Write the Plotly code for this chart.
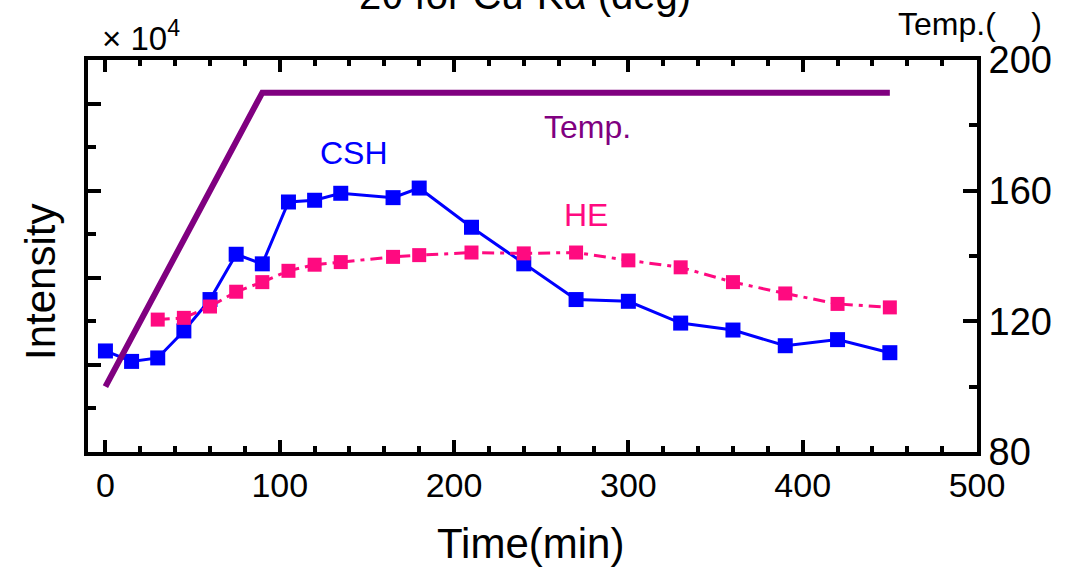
import plotly.graph_objects as go

# ---- data ----
time_csh = [0, 15, 30, 45, 60, 75, 90, 105, 120, 135, 165, 180, 210, 240, 270, 300, 330, 360, 390, 420, 450]
csh = [2.16, 2.04, 2.08, 2.39, 2.75, 3.27, 3.16, 3.87, 3.89, 3.97, 3.92, 4.03, 3.58, 3.16, 2.75, 2.73, 2.48, 2.40, 2.22, 2.29, 2.14]

time_he = [30, 45, 60, 75, 90, 105, 120, 135, 165, 180, 210, 240, 270, 300, 330, 360, 390, 420, 450]
he = [2.52, 2.54, 2.67, 2.84, 2.95, 3.08, 3.15, 3.18, 3.24, 3.26, 3.29, 3.28, 3.29, 3.20, 3.12, 2.95, 2.82, 2.70, 2.66]

time_temp = [0, 90, 450]
temp = [100, 190, 190]

x_ticks = [0, 100, 200, 300, 400, 500]
temp_ticks = [80, 120, 160, 200]

FONT = "Liberation Sans, Arial, sans-serif"
BLUE = "#0000FF"
PINK = "#FF0A80"
PURPLE = "#800080"

# plot-area pixel geometry (for annotation placement)
L, R, T, B = 88, 977, 60, 452
def xp(px):
    return (px - L) / (R - L)
def yp(py):
    return (B - py) / (B - T)

fig = go.Figure()
fig.add_trace(go.Scatter(
    x=time_csh, y=csh, mode="lines+markers", name="CSH",
    line=dict(color=BLUE, width=3),
    marker=dict(symbol="square", size=15, color=BLUE),
    yaxis="y", showlegend=False))
fig.add_trace(go.Scatter(
    x=time_he, y=he, mode="lines+markers", name="HE",
    line=dict(color=PINK, width=3, dash="12px,6px,4px,6px"),
    marker=dict(symbol="square", size=14, color=PINK),
    yaxis="y", showlegend=False))
fig.add_trace(go.Scatter(
    x=time_temp, y=temp, mode="lines", name="Temp.",
    line=dict(color=PURPLE, width=6),
    yaxis="y2", showlegend=False))

fig.update_layout(
    width=1077, height=568,
    margin=dict(l=L, r=1077 - R, t=T, b=568 - B, autoexpand=False),
    paper_bgcolor="white", plot_bgcolor="white",
    font=dict(family=FONT, color="black"),
    xaxis=dict(
        range=[-10, 500], tickvals=x_ticks, ticktext=[str(v) for v in x_ticks],
        ticks="inside", ticklen=12, tickwidth=3.5, tickcolor="black",
        minor=dict(dtick=20, tick0=0, ticks="inside", ticklen=6, tickwidth=3.5, tickcolor="black"),
        showline=True, linewidth=4, linecolor="black", mirror="ticks",
        showgrid=False, zeroline=False,
        tickfont=dict(size=34, family=FONT), automargin=False),
    yaxis=dict(
        range=[1.0, 5.5], tick0=0, dtick=1,
        ticks="inside", ticklen=13, tickwidth=3.5, tickcolor="black",
        minor=dict(dtick=0.5, tick0=0, ticks="inside", ticklen=8, tickwidth=3.5, tickcolor="black"),
        showline=True, linewidth=4, linecolor="black",
        showticklabels=False, showgrid=False, zeroline=False, automargin=False),
    yaxis2=dict(
        range=[80, 200], tickvals=temp_ticks, ticktext=[str(v) for v in temp_ticks],
        overlaying="y", side="right",
        ticks="inside", ticklen=14, tickwidth=3.5, tickcolor="black",
        minor=dict(dtick=20, tick0=0, ticks="inside", ticklen=8, tickwidth=3.5, tickcolor="black"),
        showline=True, linewidth=4, linecolor="black",
        showgrid=False, zeroline=False,
        tickfont=dict(size=38, family=FONT), automargin=False),
)

ann = [
    dict(text="Time(min)", x=xp(530), y=yp(543), font=dict(size=42)),
    dict(text="Intensity", x=xp(40), y=yp(282), textangle=-90, font=dict(size=42)),
    dict(text="× 10<sup>4</sup>", x=xp(141), y=yp(36), font=dict(size=33)),
    dict(text="Temp.(\u00a0\u00a0\u00a0\u00a0)", x=xp(970), y=yp(24), font=dict(size=32)),
    dict(text="2θ for Cu-Kα (deg)", x=xp(525), y=yp(-5), font=dict(size=40)),
    dict(text="CSH", x=xp(354), y=yp(153), font=dict(size=32, color=BLUE)),
    dict(text="Temp.", x=xp(587), y=yp(127), font=dict(size=32, color=PURPLE)),
    dict(text="HE", x=xp(586), y=yp(215), font=dict(size=32, color=PINK)),
]
for a in ann:
    fig.add_annotation(xref="paper", yref="paper", showarrow=False,
                       xanchor="center", yanchor="middle", **a)

fig.write_html("out.html")
